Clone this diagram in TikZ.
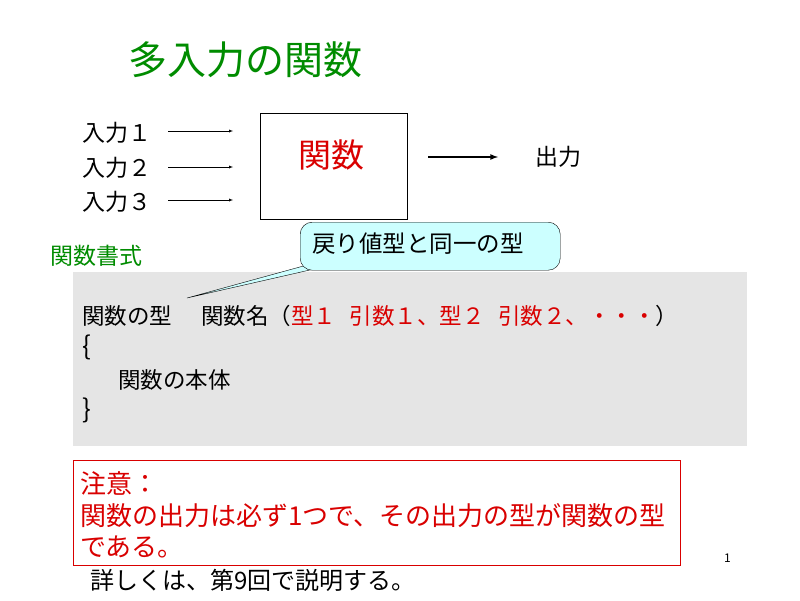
\documentclass[tikz,border=0pt]{standalone}
\usepackage{fontspec}
\setmainfont{Noto Sans CJK JP}
\setsansfont{Noto Sans CJK JP}
\begin{document}
\begin{tikzpicture}[x=1pt,y=-1pt,
  txt/.style={anchor=west,inner sep=0pt,font=\fontsize{22.5}{26}\selectfont},
  rtxt/.style={txt,text=red!85!black,font=\fontsize{26}{30}\selectfont},
  arr/.style={-latex,thin}]
\definecolor{ttl}{RGB}{0,140,0}
\definecolor{callb}{RGB}{204,255,255}
\useasboundingbox (0,0) rectangle (800,600);
\fill[white] (0,0) rectangle (800,600);
\node[txt,text=ttl,font=\fontsize{39}{43}\selectfont] (title) at (128,60) {多入力の関数};
\node[txt,font=\fontsize{23}{26}\selectfont] (i1) at (82,133) {入力１};
\node[txt,font=\fontsize{23}{26}\selectfont] (i2) at (82,168) {入力２};
\node[txt,font=\fontsize{23}{26}\selectfont] (i3) at (82,202) {入力３};
\node[draw,thin,minimum width=147,minimum height=106,anchor=north west] (f) at (260,113) {};
\node[text=red!85!black,font=\fontsize{33}{37}\selectfont] (fl) at (331,155) {関数};
\coordinate (a1) at (168,131); \coordinate (b1) at (233,131);
\coordinate (a2) at (168,167); \coordinate (b2) at (233,167);
\coordinate (a3) at (168,200); \coordinate (b3) at (233,200);
\draw[arr] (a1) -- (b1); \draw[arr] (a2) -- (b2); \draw[arr] (a3) -- (b3);
\coordinate (oa) at (428,157); \coordinate (ob) at (498,157);
\draw[-latex,line width=1.6pt] (oa) -- (ob);
\node[txt,font=\fontsize{23}{26}\selectfont] (out) at (535,157) {出力};
\node[txt,text=ttl,font=\fontsize{23}{26}\selectfont] (fmt) at (50,256) {関数書式};
\fill[black!10] (73,272) rectangle (747,446);
\coordinate (tip) at (187,298);
\draw[thin,fill=callb] (318,262) -- (tip) -- (345,262) -- cycle;
\node[draw,thin,fill=callb,rounded corners=12pt,minimum width=260,minimum height=48,anchor=north west] (cb) at (300,222) {};
\fill[callb] (319,263) -- (332,268) -- (344,263) -- cycle;
\node[txt,font=\fontsize{23.5}{27}\selectfont] (cbt) at (312,244) {戻り値型と同一の型};
\node[txt] (c1) at (82,316) {関数の型\hspace{1.3em}関数名（\textcolor{red!85!black}{型１\hspace{0.6em}引数１、型２\hspace{0.6em}引数２、・・・}）};
\node[txt,font=\fontsize{26}{30}\selectfont] (c2) at (82,347) {\{};
\node[txt] (c3) at (118,380) {関数の本体};
\node[txt,font=\fontsize{26}{30}\selectfont] (c4) at (82,410) {\}};
\node[draw=red!85!black,thin,minimum width=607,minimum height=105,anchor=north west] (nb) at (73,460) {};
\node[rtxt] (n1) at (80,483) {注意：};
\node[rtxt] (n2) at (80,516) {関数の出力は必ず1つで、その出力の型が関数の型};
\node[rtxt] (n3) at (80,547) {である。};
\node[txt,font=\fontsize{12}{14}\selectfont] (pg) at (724,558) {1};
\node[txt,font=\fontsize{24}{28}\selectfont] (more) at (90,580) {詳しくは、第9回で説明する。};
\end{tikzpicture}
\end{document}
